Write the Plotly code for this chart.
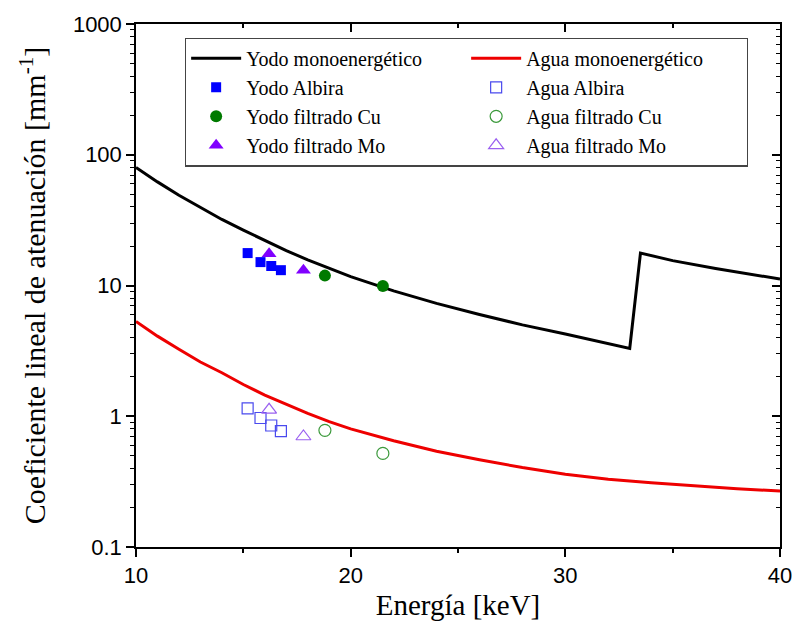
import plotly.graph_objects as go

# ---- data ----
energy_curve = [10, 11, 12, 13, 14, 15, 16, 17, 18, 19, 20, 22, 24, 26, 28, 30, 31, 32, 33.0,
                33.5, 35, 37, 40]
yodo_mono = [80, 62, 49, 39.5, 32, 26.5, 22, 18.5, 15.7, 13.5, 11.7, 9.1, 7.3, 6.0, 5.0, 4.25, 3.9, 3.6, 3.3,
             17.7, 15.5, 13.5, 11.2]

energy_water = [10, 11, 12, 13, 14, 15, 16, 17, 18, 19, 20, 22, 24, 26, 28, 30, 32, 34, 36, 38, 40]
agua_mono = [5.3, 4.1, 3.25, 2.6, 2.15, 1.75, 1.45, 1.23, 1.05, 0.91, 0.80, 0.65, 0.54, 0.465, 0.405,
             0.36, 0.33, 0.31, 0.293, 0.279, 0.268]

e_albira = [15.2, 15.8, 16.3, 16.75]
yodo_albira = [17.7, 15.1, 14.1, 13.1]
agua_albira = [1.15, 0.97, 0.85, 0.77]

e_cu = [18.8, 21.5]
yodo_cu = [11.9, 9.9]
agua_cu = [0.78, 0.52]

e_mo = [16.2, 17.8]
yodo_mo = [17.5, 13.1]
agua_mo = [1.12, 0.70]

x_ticks = [10, 20, 30, 40]
x_minor = [15, 25, 35]
y_ticks = [0.1, 1, 10, 100, 1000]
y_ticktext = ["0.1", "1", "10", "100", "1000"]
y_minor = [m * 10 ** d for d in range(-1, 3) for m in range(2, 10)]

SERIF = "Liberation Serif, Times New Roman, serif"
SANS = "Liberation Sans, Arial, sans-serif"

fig = go.Figure()
fig.add_trace(go.Scatter(x=energy_curve, y=yodo_mono, mode="lines", name="Yodo monoenergético",
                         line=dict(color="black", width=3)))
fig.add_trace(go.Scatter(x=energy_water, y=agua_mono, mode="lines", name="Agua monoenergético",
                         line=dict(color="#ee0000", width=3)))
fig.add_trace(go.Scatter(x=e_albira, y=yodo_albira, mode="markers", name="Yodo Albira",
                         marker=dict(symbol="square", color="#0000ff", size=10)))
fig.add_trace(go.Scatter(x=e_albira, y=agua_albira, mode="markers", name="Agua Albira",
                         marker=dict(symbol="square-open", color="#4a4aee", size=11, line=dict(width=1.2))))
fig.add_trace(go.Scatter(x=e_cu, y=yodo_cu, mode="markers", name="Yodo filtrado Cu",
                         marker=dict(symbol="circle", color="#007a00", size=12)))
fig.add_trace(go.Scatter(x=e_cu, y=agua_cu, mode="markers", name="Agua filtrado Cu",
                         marker=dict(symbol="circle-open", color="#3c9a3c", size=12, line=dict(width=1.2))))
fig.add_trace(go.Scatter(x=e_mo, y=yodo_mo, mode="markers", name="Yodo filtrado Mo",
                         marker=dict(symbol="triangle-up", color="#8000ff", size=13)))
fig.add_trace(go.Scatter(x=e_mo, y=agua_mo, mode="markers", name="Agua filtrado Mo",
                         marker=dict(symbol="triangle-up-open", color="#9a60f0", size=13, line=dict(width=1.2))))
# invisible trace so the mirrored (inside-tick) axes are drawn
fig.add_trace(go.Scatter(x=[10], y=[1], xaxis="x2", yaxis="y2", mode="markers",
                         marker=dict(opacity=0), showlegend=False, hoverinfo="skip"))

axis_common = dict(showline=True, linecolor="black", linewidth=1.5, showgrid=False, zeroline=False,
                   tickcolor="black", tickwidth=1.5)

fig.update_layout(
    width=804, height=635,
    margin=dict(l=136, r=13, t=19, b=88),
    paper_bgcolor="white", plot_bgcolor="white",
    xaxis=dict(range=[10, 40], tickmode="array", tickvals=x_ticks, ticks="outside", ticklen=8,
               minor=dict(tickmode="array", tickvals=x_minor, ticks="outside", ticklen=4,
                          tickcolor="black", tickwidth=1.5),
               tickfont=dict(family=SANS, size=22, color="black"),
               title=dict(text="Energía [keV]", font=dict(family=SERIF, size=29, color="black"), standoff=8),
               **axis_common),
    yaxis=dict(type="log", range=[-1, 3], tickmode="array", tickvals=y_ticks, ticktext=y_ticktext,
               ticks="outside", ticklen=8,
               minor=dict(tickmode="array", tickvals=y_minor, ticks="outside", ticklen=4,
                          tickcolor="black", tickwidth=1.2),
               tickfont=dict(family=SANS, size=22, color="black"),
               title=dict(text="Coeficiente lineal de atenuación [mm<sup>-1</sup>]",
                          font=dict(family=SERIF, size=30, color="black"), standoff=18),
               **axis_common),
    xaxis2=dict(overlaying="x", side="top", anchor="y", range=[10, 40], tickmode="array", tickvals=x_ticks,
                ticks="inside", ticklen=8, showticklabels=False,
                minor=dict(tickmode="array", tickvals=x_minor, ticks="inside", ticklen=4,
                           tickcolor="black", tickwidth=1.5),
                **axis_common),
    yaxis2=dict(overlaying="y", side="right", anchor="x", type="log", range=[-1, 3], tickmode="array",
                tickvals=y_ticks, ticks="inside", ticklen=8, showticklabels=False,
                minor=dict(tickmode="array", tickvals=y_minor, ticks="inside", ticklen=4,
                           tickcolor="black", tickwidth=1.2),
                **axis_common),
    legend=dict(orientation="h", x=0.076, y=0.974, xanchor="left", yanchor="top",
                entrywidth=215, entrywidthmode="pixels", itemwidth=50, bgcolor="white",
                bordercolor="#444444", borderwidth=1.2,
                font=dict(family=SERIF, size=20, color="black"), tracegroupgap=0),
    showlegend=True,
)

fig.write_html("out.html")
